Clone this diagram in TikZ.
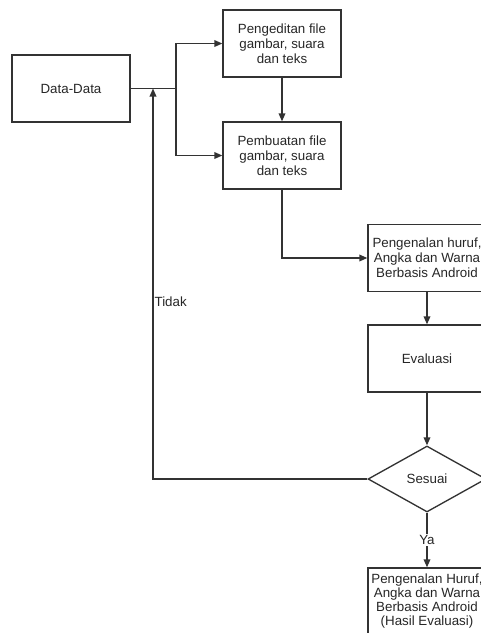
\documentclass[tikz,border=0pt]{standalone}
\usepackage{fontspec}
\setmainfont{Liberation Sans}
\usetikzlibrary{arrows.meta, positioning, shapes.geometric}

\begin{document}
\begin{tikzpicture}[x=0.75pt, y=-0.75pt,
    garis/.style={draw=black!80, line width=1pt},
    panah/.style={garis, -{Triangle[length=6pt, width=5pt]}},
    kotak/.style={draw=black!80, line width=1pt, minimum width=88.5pt, minimum height=50.25pt,
      inner sep=1pt, align=center, text=black!85, font=\fontsize{10}{11.25}\selectfont},
    keputusan/.style={kotak, diamond, minimum width=88.5pt, minimum height=49.5pt, inner sep=0pt},
    label/.style={text=black!85, font=\fontsize{10}{11.25}\selectfont, inner sep=1pt}
  ]
    \clip (0,0) rectangle (481,633);
    % kotak proses
    \node[kotak] (data) at (71,88.5) {Data-Data};
    \node[kotak] (edit) at (282,43.5) {Pengeditan file\\gambar, suara\\dan teks};
    \node[kotak] (buat) at (282,155.5) {Pembuatan file\\gambar, suara\\dan teks};
    \node[kotak] (kenal) at (427,258) {Pengenalan huruf,\\Angka dan Warna\\Berbasis Android};
    \node[kotak] (eval) at (427,358.5) {Evaluasi};
    \node[keputusan] (sesuai) at (427,479) {Sesuai};
    \node[kotak, font=\fontsize{10}{10.5}\selectfont] (hasil) at (427,601.5)
      {Pengenalan Huruf,\\Angka dan Warna\\Berbasis Android\\(Hasil Evaluasi)};
    \coordinate (cabang) at (176,88.5);
    \coordinate (balik) at (153,88.5);
    % penghubung
    \draw[garis] (data) -- (cabang);
    \draw[panah] (cabang) |- (edit);
    \draw[panah] (cabang) |- (buat);
    \draw[panah] (edit) -- (buat);
    \draw[panah] (buat.south) |- (kenal.west);
    \draw[panah] (kenal) -- (eval);
    \draw[panah] (eval) -- (sesuai);
    \draw[panah] (sesuai) -- node[label, fill=white] (ya) {Ya} (hasil);
    \draw[panah] (sesuai.west) -| (balik);
    \node[label, anchor=west] (tidak) at (153,302) {Tidak};
\end{tikzpicture}
\end{document}
